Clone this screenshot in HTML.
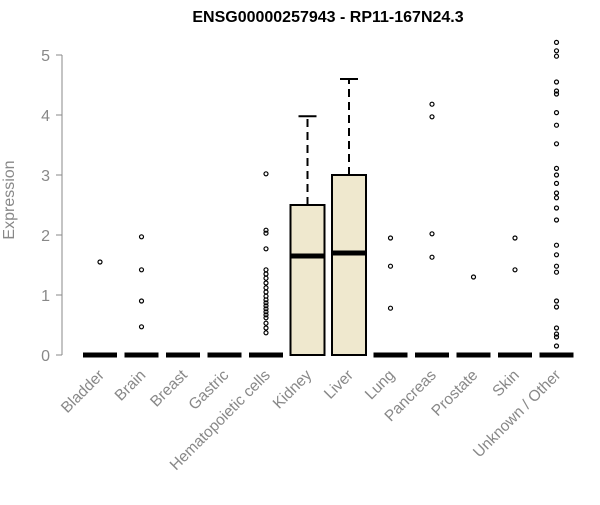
<!DOCTYPE html>
<html><head><meta charset="utf-8"><style>body{margin:0;background:#fff}svg{font-family:"Liberation Sans",Arial,sans-serif}</style></head>
<body>
<svg id="c" width="600" height="500">
<text x="328" y="22" text-anchor="middle" font-weight="bold" font-size="16">ENSG00000257943 - RP11-167N24.3</text>
<text transform="translate(14,200) rotate(-90)" text-anchor="middle" font-size="16" fill="#888">Expression</text>
<g id="ax"></g><g id="marks"></g>
</svg>
<script>
const categories=["Bladder","Brain","Breast","Gastric","Hematopoietic cells","Kidney","Liver","Lung","Pancreas","Prostate","Skin","Unknown / Other"];
const medians=[0,0,0,0,0,1.65,1.7,0,0,0,0,0];
const q1s=[0,0,0,0,0,0,0,0,0,0,0,0];
const q3s=[0,0,0,0,0,2.5,3.0,0,0,0,0,0];
const whiskerHigh=[0,0,0,0,0,3.98,4.6,0,0,0,0,0];
const outliers=[[1.55],[1.97,1.42,0.9,0.47],[],[],
[3.02,2.08,2.03,1.77,1.42,1.35,1.28,1.2,1.12,1.05,0.98,0.92,0.87,0.82,0.77,0.72,0.67,0.62,0.53,0.45,0.37],
[],[],[1.95,1.48,0.78],[4.18,3.97,2.02,1.63],[1.3],[1.95,1.42],
[5.21,5.07,4.98,4.55,4.4,4.35,4.04,3.83,3.52,3.11,3.0,2.86,2.7,2.62,2.45,2.25,1.83,1.67,1.48,1.38,0.9,0.8,0.45,0.35,0.3,0.15]];
const yTicks=[0,1,2,3,4,5];
const NS="http://www.w3.org/2000/svg";
const y=v=>355-v*60, x=i=>100+i*41.5, bw=34;
function mk(t,a,p){const e=document.createElementNS(NS,t);for(const k in a)e.setAttribute(k,a[k]);p.appendChild(e);return e;}
const ax=document.getElementById('ax'),m=document.getElementById('marks');
const al=mk('line',{x1:62,x2:62,y1:y(5),y2:y(0),stroke:'#888'},ax);


yTicks.forEach(t=>{
 const l=mk('line',{x1:56,x2:62,y1:y(t),y2:y(t),stroke:'#888'},ax);
 
 
 const tx=mk('text',{x:50,y:y(t)+6,'text-anchor':'end','font-size':16,fill:'#888'},ax);tx.textContent=t;
 
 
});
categories.forEach((c,i)=>{
 const cx=x(i);
 const g=mk('g',{},m);
 
 
 if(q3s[i]>q1s[i]){
  mk('line',{x1:cx,x2:cx,y1:y(q3s[i]),y2:y(whiskerHigh[i]),stroke:'#000','stroke-width':2,'stroke-dasharray':'8,5'},g);
  mk('line',{x1:cx-9,x2:cx+9,y1:y(whiskerHigh[i]),y2:y(whiskerHigh[i]),stroke:'#000','stroke-width':2},g);
  mk('rect',{x:cx-bw/2,y:y(q3s[i]),width:bw,height:y(q1s[i])-y(q3s[i]),fill:'#EFE8CE',stroke:'#000','stroke-width':2},g);
 }
 mk('line',{x1:cx-bw/2,x2:cx+bw/2,y1:y(medians[i]),y2:y(medians[i]),stroke:'#000','stroke-width':5},g);
 outliers[i].forEach(v=>{const p=mk('circle',{cx:cx,cy:y(v),r:2,fill:'none',stroke:'#000','stroke-width':1.2},g);
  
  });
 const t=mk('text',{transform:`translate(${cx+5},${376}) rotate(-45)`,'text-anchor':'end','font-size':15.5,fill:'#888'},ax);
 t.textContent=c;
 
 
});
</script>
</body></html>
